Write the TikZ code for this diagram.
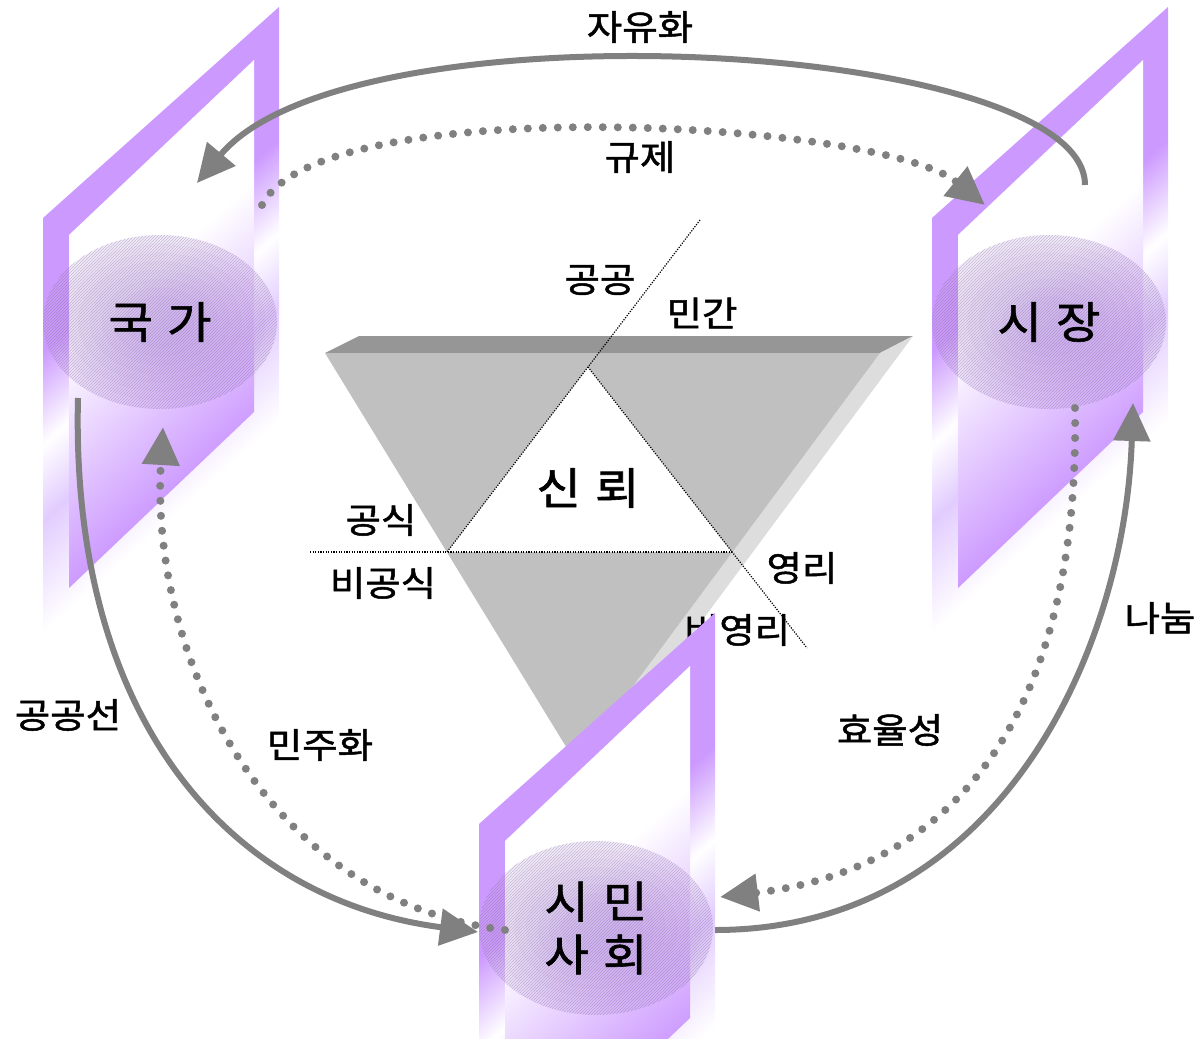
\documentclass[tikz,border=0pt]{standalone}
\usepackage{fontspec}
\newfontfamily\kr{Noto Sans CJK KR}[FakeBold=1.4,FakeStretch=1.1]
\usetikzlibrary{arrows.meta,patterns}
\definecolor{pp}{RGB}{204,153,255}
\definecolor{plight}{RGB}{226,204,255}
\definecolor{pdark}{RGB}{170,120,230}
\definecolor{arr}{RGB}{128,128,128}
\definecolor{tritop}{RGB}{150,150,150}
\definecolor{trifront}{RGB}{192,192,192}
\definecolor{triside}{RGB}{221,221,221}
\pgfdeclarehorizontalshading{outershade}{100bp}{color(0bp)=(pp); color(46bp)=(pp); color(51bp)=(white); color(55bp)=(plight); color(61bp)=(white); color(100bp)=(white)}
\pgfdeclarehorizontalshading{innershade}{100bp}{color(0bp)=(white); color(47bp)=(white); color(60bp)=(pp); color(100bp)=(pp)}
\tikzset{
  lbl/.style={font=\kr\fontsize{35}{40}\selectfont, inner sep=0pt},
  bigtxt/.style={font=\kr\fontsize{44}{53}\selectfont, align=center, inner sep=0pt},
  solidarrow/.style={draw=arr, line width=6pt, -{Triangle[length=38pt,width=36pt]}},
  dotarrow/.style={draw=arr, line width=8pt, line cap=round, dash pattern=on 0pt off 15pt, -{Triangle[length=38pt,width=36pt]}},
  guide/.style={draw=black, line width=1.2pt, dash pattern=on 1.2pt off 1.4pt},
}
\newcommand\mypanel[4]{%
\begin{scope}[shift={(#1,-#2)}]
  \begin{scope}
    \clip (43,-218) -- (279,-7) -- (279,-421) -- (43,-632) -- cycle;
    \shade[shading=outershade, shading angle=-48] (-189,-670) rectangle (511,30);
  \end{scope}
  \begin{scope}
    \clip (69,-235) -- (254,-60) -- (254,-412) -- (69,-588) -- cycle;
    \shade[shading=innershade, shading angle=-48] (-189,-670) rectangle (511,30);
  \end{scope}
  \fill[pp, opacity=0.2] (160,-322) ellipse (117 and 87);
  \foreach \k in {0.9,0.8,0.7,0.6,0.5,0.4,0.3}
    \fill[pdark, opacity=0.05] (160,-322) ellipse ({117*\k} and {87*\k});
  \fill[pattern=north east lines, pattern color=black!55, opacity=0.38] (160,-322) ellipse (117 and 87);
  \node[bigtxt] (#3) at (160,-322) {#4};
\end{scope}}
\begin{document}
\begin{tikzpicture}[x=1pt,y=1pt]
\useasboundingbox (0,0) rectangle (1200,-1039);
\clip (0,0) rectangle (1200,-1039);
\fill[white] (0,0) rectangle (1200,-1039);
% trust triangle
\fill[tritop] (325,-353) -- (359,-336) -- (913,-336) -- (880,-353) -- cycle;
\fill[triside] (880,-353) -- (913,-336) -- (609,-746) -- (576,-763) -- cycle;
\fill[trifront] (325,-353) -- (880,-353) -- (576,-763) -- cycle;
\fill[white] (588,-367) -- (447,-552) -- (732,-552) -- cycle;
\node[bigtxt] (trust) at (588,-488) {신\hspace{.32em}뢰};
% guide lines
\coordinate (g1a) at (700,-220);
\coordinate (g1b) at (447,-552);
\coordinate (g2a) at (588,-367);
\coordinate (g2b) at (807,-648);
\coordinate (g3a) at (310,-552);
\coordinate (g3b) at (732,-552);
\draw[guide] (g1a) -- (g1b);
\draw[guide] (g2a) -- (g2b);
\draw[guide] (g3a) -- (g3b);
\node[lbl] (l-gg) at (600,-280) {공공};
\node[lbl] (l-mg) at (702,-313) {민간};
\node[lbl] (l-gs) at (381,-520) {공식};
\node[lbl] (l-bgs) at (383,-583) {비공식};
\node[lbl] (l-yr) at (802,-568) {영리};
\node[lbl] (l-byr) at (737,-630) {비영리};
% panels
\mypanel{0}{0}{gukga}{국\hspace{.32em}가}
\mypanel{889}{0}{sijang}{시\hspace{.32em}장}
\mypanel{436}{606}{simin}{시\hspace{.32em}민\\사\hspace{.32em}회}
% arrows
\coordinate (jy-a) at (1085,-185);
\coordinate (jy-b) at (197,-183);
\coordinate (gj-a) at (262,-205);
\coordinate (gj-b) at (985,-205);
\coordinate (gs-a) at (78,-398);
\coordinate (gs-b) at (478,-932);
\coordinate (mj-a) at (505,-930);
\coordinate (mj-b) at (163,-427);
\coordinate (nn-a) at (715,-930);
\coordinate (nn-b) at (1133,-403);
\coordinate (hy-a) at (1075,-408);
\coordinate (hy-b) at (720,-897);
\draw[solidarrow] (jy-a) .. controls (1085,-40) and (350,0) .. (jy-b);
\draw[dotarrow] (gj-a) .. controls (320,-90) and (880,-120) .. (gj-b);
\draw[solidarrow] (gs-a) .. controls (70,-720) and (230,-900) .. (gs-b);
\draw[dotarrow] (mj-a) .. controls (260,-900) and (150,-650) .. (mj-b);
\draw[solidarrow] (nn-a) .. controls (1000,-930) and (1125,-650) .. (nn-b);
\draw[dotarrow] (hy-a) .. controls (1080,-720) and (950,-870) .. (hy-b);
\node[lbl] (l-jy) at (640,-27) {자유화};
\node[lbl] (l-gj) at (640,-157) {규제};
\node[lbl] (l-gsn) at (68,-715) {공공선};
\node[lbl] (l-mj) at (320,-745) {민주화};
\node[lbl] (l-hy) at (890,-730) {효율성};
\node[lbl] (l-nn) at (1160,-618) {나눔};
\end{tikzpicture}
\end{document}
